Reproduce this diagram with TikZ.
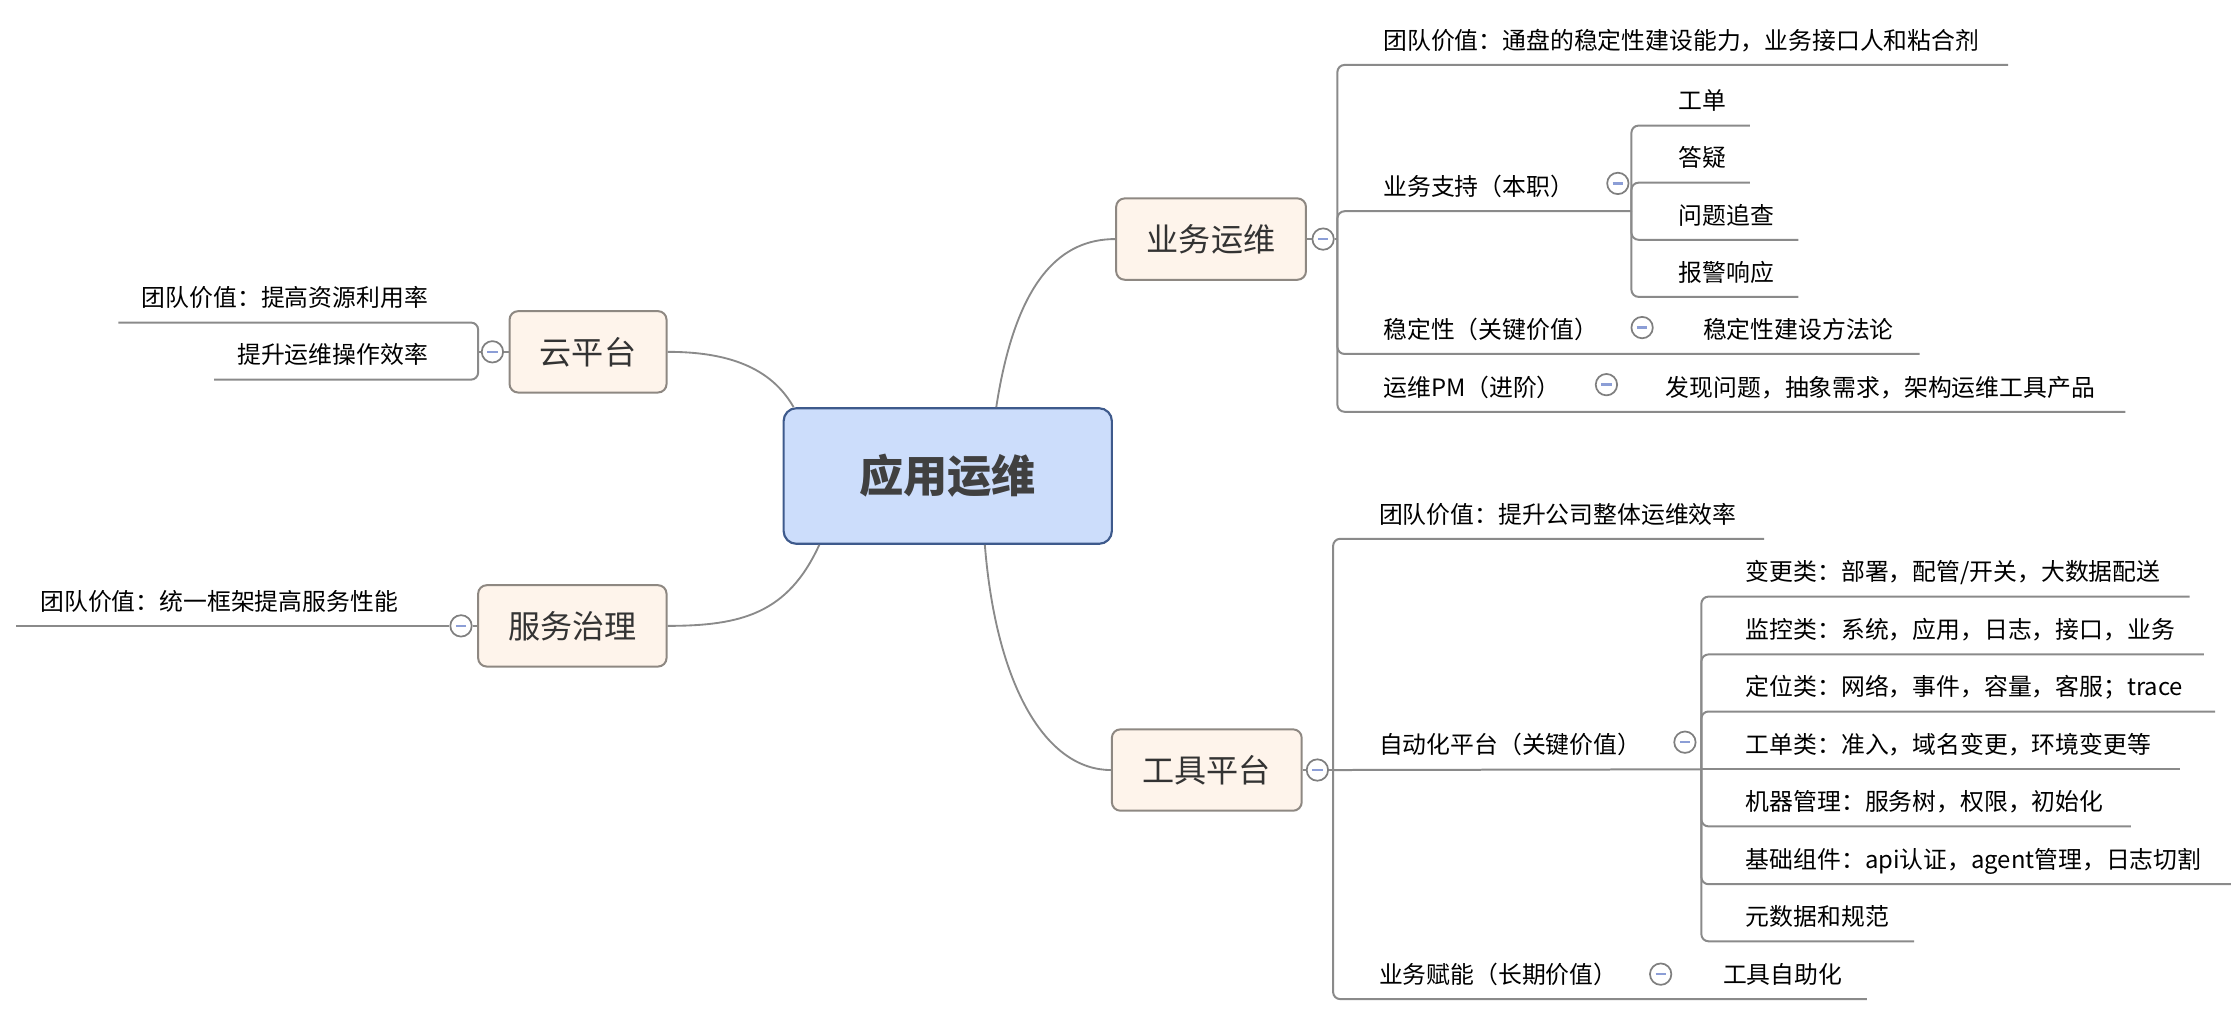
\documentclass[tikz,border=0pt]{standalone}
\usepackage{fontspec}
\setmainfont{Noto Sans CJK SC}
\usetikzlibrary{calc}
\definecolor{rootfill}{HTML}{CCDDFB}
\definecolor{rootdraw}{HTML}{3E5A8C}
\definecolor{lfill}{HTML}{FEF4EB}
\definecolor{ldraw}{HTML}{8E8882}
\definecolor{lgray}{HTML}{8A8A8A}
\definecolor{bgray}{HTML}{7F7F7F}
\definecolor{mblue}{HTML}{8C9ED6}
\begin{document}
\begin{tikzpicture}[x=1pt,y=-1pt,
 rootbox/.style={draw=rootdraw, fill=rootfill, line width=1.5pt, rounded corners=9pt, minimum width=230pt, minimum height=95pt, font=\fontsize{31}{36}\selectfont\bfseries, text=black!75, inner sep=0pt},
 topic/.style={draw=ldraw, fill=lfill, line width=1.4pt, rounded corners=6pt, minimum height=57pt, font=\fontsize{22.5}{26}\selectfont, text=black!80, inner sep=0pt},
 item/.style={anchor=base west, inner sep=0pt, font=\fontsize{16.7}{20}\selectfont, text=black},
 itemr/.style={item, anchor=base east},
 ln/.style={draw=lgray, line width=1.4pt},
 br/.style={ln, rounded corners=5pt},
 curve/.style={draw=lgray, line width=1.3pt},
 btn/.style={circle, draw=bgray, line width=1.2pt, fill=white, minimum size=15pt, inner sep=0pt,
   path picture={\draw[mblue, line width=1.8pt] ([xshift=-3.6pt]path picture bounding box.center) -- ([xshift=3.6pt]path picture bounding box.center);}},
]
\useasboundingbox (0,0) rectangle (1568,714.6);

% central and main topics
\node[rootbox] (root) at (664,333.5) {应用运维};
\node[topic, minimum width=133pt] (yw) at (848.5,167.5) {业务运维};
\node[topic, minimum width=133pt] (gj) at (845.5,539.5) {工具平台};
\node[topic, minimum width=110pt] (yp) at (412,246.5) {云平台};
\node[topic, minimum width=132pt] (fw) at (401,438.5) {服务治理};

% curves
\draw[curve] ([xshift=34pt]root.north) .. controls +(14,-91) and +(-37,0) .. (yw.west);
\draw[curve] ([xshift=26pt]root.south) .. controls +(8,100) and +(-45,0) .. (gj.west);
\draw[curve] ([xshift=-108pt]root.north) .. controls +(-16,-28) and +(42,0) .. (yp.east);
\draw[curve] ([xshift=-90pt]root.south) .. controls +(-22,48) and +(52,0) .. (fw.east);

% ---------- 业务运维 ----------
\node[btn] (ywb) at (927,167.5) {};
\coordinate (ywj) at (937,167.5);
\draw[ln] (yw) -- (ywb);
\draw[ln] (ywb) -- (ywj);
\coordinate (yw1) at (1407,45.5);
\coordinate (yw2) at (1143,148);
\coordinate (yw3) at (1345,248);
\coordinate (yw4) at (1489,288.5);
\draw[br] (ywj) |- (yw1);
\draw[br] (ywj) |- (yw2);
\draw[br] (ywj) |- (yw3);
\draw[br] (ywj) |- (yw4);
\node[item] (t11) at (969,34.5) {团队价值：通盘的稳定性建设能力，业务接口人和粘合剂};
\node[item] (t12) at (969,137) {业务支持（本职）};
\node[btn] (b1) at (1133.5,128.5) {};
\node[item] (t13) at (969,237) {稳定性（关键价值）};
\node[btn] (b2) at (1150.5,229.5) {};
\node[item] (t131) at (1193,237) {稳定性建设方法论};
\node[item] (t14) at (969,277.5) {运维PM（进阶）};
\node[btn] (b3) at (1125.5,269.5) {};
\node[item] (t141) at (1167,277.5) {发现问题，抽象需求，架构运维工具产品};
% sub items of 业务支持
\coordinate (s1) at (1226,88);
\coordinate (s2) at (1226,128);
\coordinate (s3) at (1260,168);
\coordinate (s4) at (1260,208);
\draw[br] (yw2) |- (s1);
\draw[br] (yw2) |- (s2);
\draw[br] (yw2) |- (s3);
\draw[br] (yw2) |- (s4);
\node[item] (t121) at (1176,77) {工单};
\node[item] (t122) at (1176,117) {答疑};
\node[item] (t123) at (1176,157) {问题追查};
\node[item] (t124) at (1176,197) {报警响应};

% ---------- 工具平台 ----------
\node[btn] (gjb) at (923,539.5) {};
\coordinate (gjj) at (934,539.5);
\draw[ln] (gj) -- (gjb);
\draw[ln] (gjb) -- (gjj);
\coordinate (gj1) at (1236,377.5);
\coordinate (gj2) at (1192,539);
\coordinate (gj3) at (1308,700);
\draw[br] (gjj) |- (gj1);
\draw[ln] (gjj) -- (gj2);
\draw[br] (gjj) |- (gj3);
\node[item] (t21) at (966,366.5) {团队价值：提升公司整体运维效率};
\node[item] (t22) at (966,528) {自动化平台（关键价值）};
\node[btn] (b4) at (1180.5,520) {};
\node[item] (t23) at (966,689) {业务赋能（长期价值）};
\node[btn] (b5) at (1163.5,682.5) {};
\node[item] (t231) at (1207,689) {工具自助化};
% sub items of 自动化平台
\coordinate (a1) at (1534,418);
\coordinate (a2) at (1544,458.5);
\coordinate (a3) at (1552,498.5);
\coordinate (a4) at (1527,539);
\coordinate (a5) at (1493,579);
\coordinate (a6) at (1563,619.5);
\coordinate (a7) at (1341,659.5);
\draw[br] (gj2) |- (a1);
\draw[br] (gj2) |- (a2);
\draw[br] (gj2) |- (a3);
\draw[ln] (gj2) -- (a4);
\draw[br] (gj2) |- (a5);
\draw[br] (gj2) |- (a6);
\draw[br] (gj2) |- (a7);
\node[item] (t221) at (1223,407) {变更类：部署，配管/开关，大数据配送};
\node[item] (t222) at (1223,447.5) {监控类：系统，应用，日志，接口，业务};
\node[item] (t223) at (1223,487.5) {定位类：网络，事件，容量，客服；trace};
\node[item] (t224) at (1223,528) {工单类：准入，域名变更，环境变更等};
\node[item] (t225) at (1223,568) {机器管理：服务树，权限，初始化};
\node[item] (t226) at (1223,608.5) {基础组件：api认证，agent管理，日志切割};
\node[item] (t227) at (1223,648.5) {元数据和规范};

% ---------- 云平台 ----------
\node[btn] (ypb) at (345,246.5) {};
\coordinate (ypj) at (335,246.5);
\draw[ln] (yp) -- (ypb);
\draw[ln] (ypb) -- (ypj);
\coordinate (yp1) at (83,226);
\coordinate (yp2) at (150,266);
\draw[br] (ypj) |- (yp1);
\draw[br] (ypj) |- (yp2);
\node[itemr] (t31) at (300,215) {团队价值：提高资源利用率};
\node[itemr] (t32) at (300,255) {提升运维操作效率};

% ---------- 服务治理 ----------
\node[btn] (fwb) at (323,438.5) {};
\coordinate (fw1) at (11,438.5);
\draw[ln] (fw) -- (fwb);
\draw[ln] (fwb) -- (fw1);
\node[itemr] (t41) at (279,427.5) {团队价值：统一框架提高服务性能};
\end{tikzpicture}
\end{document}
